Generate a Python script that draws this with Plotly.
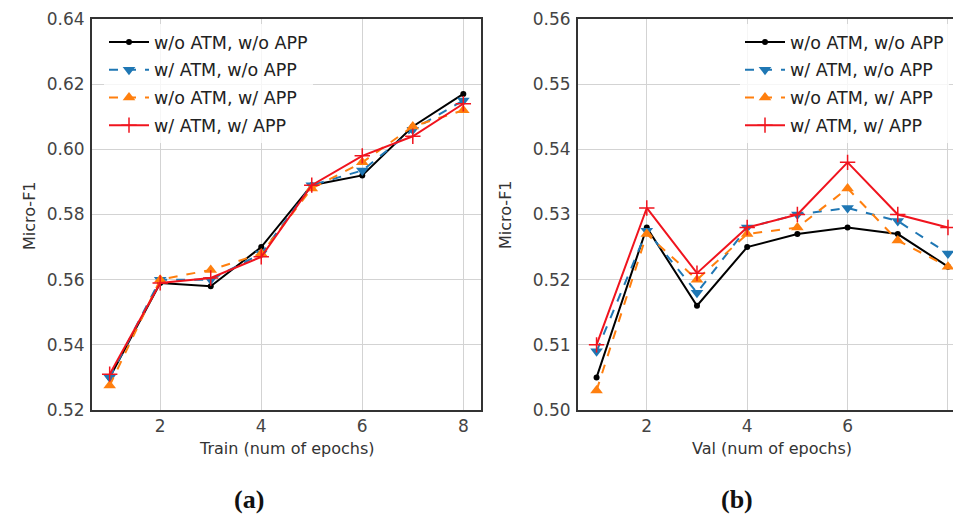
import plotly.graph_objects as go

epochs = [1, 2, 3, 4, 5, 6, 7, 8]
series_names = ["w/o ATM, w/o APP", "w/ ATM, w/o APP", "w/o ATM, w/ APP", "w/ ATM, w/ APP"]

train_base = [0.530, 0.559, 0.558, 0.570, 0.589, 0.592, 0.607, 0.617]
train_atm = [0.530, 0.560, 0.560, 0.568, 0.589, 0.5935, 0.606, 0.615]
train_app = [0.5275, 0.560, 0.563, 0.568, 0.588, 0.596, 0.607, 0.612]
train_both = [0.531, 0.559, 0.5605, 0.567, 0.589, 0.598, 0.604, 0.614]

val_base = [0.505, 0.528, 0.516, 0.525, 0.527, 0.528, 0.527, 0.522]
val_atm = [0.509, 0.5275, 0.518, 0.528, 0.530, 0.531, 0.529, 0.524]
val_app = [0.503, 0.527, 0.520, 0.527, 0.528, 0.534, 0.526, 0.522]
val_both = [0.510, 0.531, 0.521, 0.528, 0.530, 0.538, 0.530, 0.528]

x_ticks = [2, 4, 6, 8]
train_yticks = [0.52, 0.54, 0.56, 0.58, 0.60, 0.62, 0.64]
val_yticks = [0.50, 0.51, 0.52, 0.53, 0.54, 0.55, 0.56]

styles = [
    dict(color="black", dash="solid", symbol="circle", size=6, lw=0),
    dict(color="#1f77b4", dash="dash", symbol="triangle-down", size=11, lw=0),
    dict(color="#ff7f0e", dash="dash", symbol="triangle-up", size=11, lw=0),
    dict(color="#f0141e", dash="solid", symbol="cross-thin", size=11, lw=1.5),
]

FONT = "DejaVu Sans"
fig = go.Figure()

for panel, data in enumerate([[train_base, train_atm, train_app, train_both],
                              [val_base, val_atm, val_app, val_both]]):
    xa = "x" if panel == 0 else "x2"
    ya = "y" if panel == 0 else "y2"
    lg = "legend" if panel == 0 else "legend2"
    for i, (name, vals, st) in enumerate(zip(series_names, data, styles)):
        fig.add_trace(go.Scatter(
            x=epochs, y=vals, name=name, mode="lines+markers",
            xaxis=xa, yaxis=ya, legend=lg, legendgroup=f"{lg}_{i}",
            line=dict(color=st["color"], dash=st["dash"], width=2),
            marker=dict(symbol=st["symbol"], size=st["size"], color=st["color"],
                        line=dict(color=st["color"], width=st["lw"])),
        ))

axis_common = dict(
    showgrid=True, gridcolor="#d3d3d3", gridwidth=1,
    showline=True, linecolor="#333333", linewidth=2,
    ticks="",
    tickfont=dict(family=FONT, size=17, color="#444444"),
    zeroline=False, automargin=False,
)

legend_common = dict(
    xanchor="left", yanchor="top", bgcolor="rgba(255,255,255,0.8)",
    font=dict(family=FONT, size=17.5, color="#222"),
    tracegroupgap=2, itemwidth=40,
)

fig.update_layout(
    width=953, height=518,
    margin=dict(l=0, r=0, t=0, b=0),
    paper_bgcolor="white", plot_bgcolor="white",
    font=dict(family=FONT),
    showlegend=True,
    xaxis=dict(domain=[92 / 953, 481 / 953], range=[0.65, 8.35], tickvals=x_ticks,
               mirror=True, anchor="y", ticklabelstandoff=0, **axis_common),
    yaxis=dict(domain=[1 - 410 / 518, 1 - 19 / 518], range=[0.52, 0.64], tickvals=train_yticks,
               tickformat=".2f", mirror=True, anchor="x", ticklabelstandoff=2, **axis_common),
    xaxis2=dict(domain=[578 / 953, 1.0], range=[0.63, 8.10], tickvals=x_ticks,
                mirror=True, anchor="y2", ticklabelstandoff=0, **axis_common),
    yaxis2=dict(domain=[1 - 410 / 518, 1 - 19 / 518], range=[0.50, 0.56], tickvals=val_yticks,
                tickformat=".2f", anchor="x2", ticklabelstandoff=2, **axis_common),
    legend=dict(x=104 / 953, y=1 - 24 / 518, **legend_common),
    legend2=dict(x=740 / 953, y=1 - 24 / 518, **legend_common),
    annotations=[
        dict(text="Micro-F1", x=30 / 953, y=1 - 215 / 518, xref="paper", yref="paper",
             xanchor="center", yanchor="middle",
             textangle=-90, showarrow=False, font=dict(family=FONT, size=16, color="#333")),
        dict(text="Micro-F1", x=506 / 953, y=1 - 215 / 518, xref="paper", yref="paper",
             xanchor="center", yanchor="middle",
             textangle=-90, showarrow=False, font=dict(family=FONT, size=16, color="#333")),
        dict(text="Train (num of epochs)", x=286 / 953, y=1 - 448 / 518, xref="paper", yref="paper",
             xanchor="center", yanchor="middle",
             showarrow=False, font=dict(family=FONT, size=16, color="#333")),
        dict(text="Val (num of epochs)", x=772 / 953, y=1 - 448 / 518, xref="paper", yref="paper",
             xanchor="center", yanchor="middle",
             showarrow=False, font=dict(family=FONT, size=16, color="#333")),
        dict(text="<b>(a)</b>", x=249 / 953, y=1 - 499 / 518, xref="paper", yref="paper",
             xanchor="center", yanchor="middle",
             showarrow=False, font=dict(family="Liberation Serif", size=26, color="#111")),
        dict(text="<b>(b)</b>", x=737 / 953, y=1 - 499 / 518, xref="paper", yref="paper",
             xanchor="center", yanchor="middle",
             showarrow=False, font=dict(family="Liberation Serif", size=26, color="#111")),
    ],
)

fig.write_html("out.html", config={"displayModeBar": False},
               post_script="document.body.style.margin='0';document.body.style.overflow='hidden';")
